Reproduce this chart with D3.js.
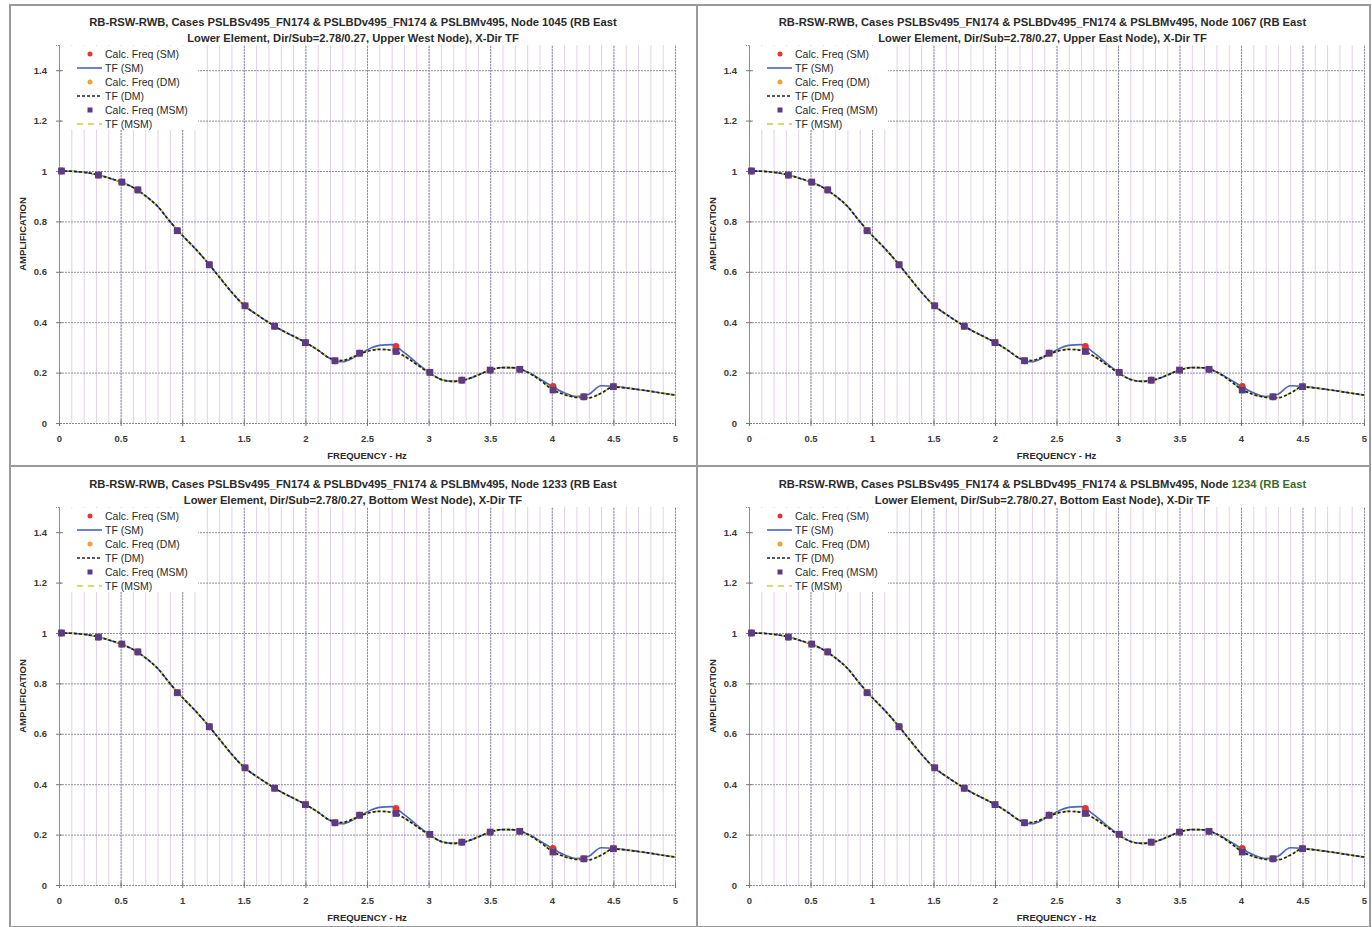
<!DOCTYPE html>
<html>
<head>
<meta charset="utf-8">
<script src="https://cdn.jsdelivr.net/npm/d3@7"></script>
<style>
  body { margin: 0; background: #fff; }
  svg { display: block; font-family: "Liberation Sans", Arial, sans-serif; }
</style>
</head>
<body>
<div id="chart"></div>
<script>
// Frequencies at which the transfer functions were read (Hz)
const freq = [0, 0.1, 0.2, 0.3, 0.4, 0.5, 0.6, 0.7, 0.8, 0.9,
  1.0, 1.1, 1.2, 1.3, 1.4, 1.5, 1.6, 1.7, 1.8, 1.9,
  2.0, 2.1, 2.2, 2.3, 2.4, 2.5, 2.6, 2.7, 2.8, 2.9,
  3.0, 3.1, 3.2, 3.3, 3.4, 3.5, 3.6, 3.7, 3.8, 3.9,
  4.0, 4.1, 4.2, 4.3, 4.4, 4.5, 4.6, 4.7, 4.8, 4.9, 5.0];

const tfSM = [1.000, 0.999, 0.995, 0.987, 0.973, 0.957, 0.935, 0.902, 0.860, 0.800,
  0.745, 0.695, 0.640, 0.580, 0.520, 0.468, 0.432, 0.400, 0.370, 0.345,
  0.320, 0.290, 0.256, 0.243, 0.262, 0.290, 0.308, 0.311, 0.280, 0.240,
  0.202, 0.173, 0.165, 0.172, 0.190, 0.210, 0.220, 0.219, 0.203, 0.176,
  0.146, 0.120, 0.105, 0.114, 0.148, 0.146, 0.140, 0.133, 0.126, 0.118, 0.111];

const tfDM = [1.000, 0.999, 0.995, 0.987, 0.973, 0.957, 0.935, 0.902, 0.860, 0.800,
  0.745, 0.695, 0.640, 0.580, 0.520, 0.468, 0.432, 0.400, 0.370, 0.345,
  0.320, 0.290, 0.257, 0.248, 0.265, 0.284, 0.292, 0.289, 0.266, 0.234,
  0.200, 0.173, 0.165, 0.172, 0.190, 0.210, 0.220, 0.219, 0.202, 0.172,
  0.135, 0.113, 0.102, 0.100, 0.118, 0.143, 0.139, 0.133, 0.126, 0.118, 0.111];

const tfMSM = [1.000, 0.999, 0.995, 0.987, 0.973, 0.957, 0.935, 0.902, 0.860, 0.800,
  0.745, 0.695, 0.640, 0.580, 0.520, 0.468, 0.432, 0.400, 0.370, 0.345,
  0.320, 0.290, 0.257, 0.248, 0.265, 0.284, 0.293, 0.290, 0.266, 0.234,
  0.200, 0.173, 0.165, 0.172, 0.190, 0.210, 0.220, 0.219, 0.202, 0.172,
  0.135, 0.113, 0.102, 0.100, 0.118, 0.143, 0.139, 0.133, 0.126, 0.118, 0.111];

// Calculated frequencies (markers)
const calcFreq = [0.02, 0.32, 0.51, 0.64, 0.96, 1.22, 1.51, 1.75, 2.0, 2.24,
  2.44, 2.735, 3.01, 3.27, 3.5, 3.74, 4.01, 4.26, 4.5];
const calcSM = [1.0, 0.984, 0.956, 0.925, 0.763, 0.628, 0.465, 0.384, 0.319, 0.247,
  0.277, 0.304, 0.201, 0.170, 0.210, 0.213, 0.145, 0.104, 0.144];
const calcDM = [1.0, 0.984, 0.956, 0.925, 0.763, 0.628, 0.465, 0.384, 0.319, 0.247,
  0.277, 0.285, 0.201, 0.170, 0.210, 0.213, 0.131, 0.104, 0.144];
const calcMSM = [1.0, 0.984, 0.956, 0.925, 0.763, 0.628, 0.465, 0.384, 0.319, 0.247,
  0.277, 0.284, 0.201, 0.170, 0.210, 0.213, 0.131, 0.104, 0.144];

const xTicks = [0, 0.5, 1, 1.5, 2, 2.5, 3, 3.5, 4, 4.5, 5];
const yTicks = [0, 0.2, 0.4, 0.6, 0.8, 1, 1.2, 1.4];

const nodes = ['1045', '1067', '1233', '1234'];
const nodeDesc = ['Upper West Node', 'Upper East Node', 'Bottom West Node', 'Bottom East Node'];

const W = 1372, H = 927;

// panel frames and plot areas (pixels)
const panels = [
  { box: [10, 5, 687, 461], left: 59, right: 675, bottom: 423 },
  { box: [697, 5, 673, 461], left: 749, right: 1364, bottom: 423 },
  { box: [10, 466, 687, 461], left: 59, right: 675, bottom: 885 },
  { box: [697, 466, 673, 461], left: 749, right: 1364, bottom: 885 }
];

const svg = d3.select('#chart').append('svg')
  .attr('width', W)
  .attr('height', H)
  .attr('viewBox', `0 0 ${W} ${H}`);

const series = [
  { name: 'Calc. Freq (SM)', type: 'point', shape: 'circle', color: '#e8342c', x: calcFreq, y: calcSM },
  { name: 'TF (SM)', type: 'line', color: '#4a64c4', dash: null, width: 1.6, x: freq, y: tfSM },
  { name: 'Calc. Freq (DM)', type: 'point', shape: 'circle', color: '#f4a030', x: calcFreq, y: calcDM },
  { name: 'TF (DM)', type: 'line', color: '#202020', dash: '3,2', width: 1.7, x: freq, y: tfDM },
  { name: 'Calc. Freq (MSM)', type: 'point', shape: 'square', color: '#5a3c86', x: calcFreq, y: calcMSM },
  { name: 'TF (MSM)', type: 'line', color: '#c4d43a', dash: '6,5', width: 1.6, x: freq, y: tfMSM }
];
// drawing order: lines (SM, MSM, DM) then markers
const drawOrder = [1, 5, 3, 0, 2, 4];

panels.forEach((p, pi) => {
  const g = svg.append('g');

  // frame
  g.append('rect')
    .attr('x', p.box[0]).attr('y', p.box[1])
    .attr('width', p.box[2]).attr('height', p.box[3])
    .attr('fill', '#fff')
    .attr('stroke', '#9a9a9a')
    .attr('stroke-width', 2);

  const x = d3.scaleLinear().domain([0, 5]).range([p.left, p.right]);
  const y = d3.scaleLinear().domain([0, 1.5]).range([p.bottom, p.bottom - 378]);
  const top = y(1.5);
  const innerH = p.bottom - top;
  const innerW = p.right - p.left;

  // minor vertical grid (0.1 Hz)
  g.append('g')
    .attr('transform', `translate(0,${p.bottom})`)
    .call(d3.axisBottom(x).tickValues(d3.range(0, 5.001, 0.1)).tickSize(-innerH).tickFormat(''))
    .call(s => s.select('.domain').remove())
    .call(s => s.selectAll('line').attr('stroke', '#e2d0e6').attr('stroke-width', 1));

  // major vertical grid (0.5 Hz)
  g.append('g')
    .attr('transform', `translate(0,${p.bottom})`)
    .call(d3.axisBottom(x).tickValues(xTicks).tickSize(-innerH).tickFormat(''))
    .call(s => s.select('.domain').remove())
    .call(s => s.selectAll('line').attr('stroke', '#8e8ea6').attr('stroke-width', 1).attr('stroke-dasharray', '2,1'));

  // horizontal grid (0.2)
  g.append('g')
    .attr('transform', `translate(${p.left},0)`)
    .call(d3.axisLeft(y).tickValues(yTicks.slice(1)).tickSize(-innerW).tickFormat(''))
    .call(s => s.select('.domain').remove())
    .call(s => s.selectAll('line').attr('stroke', '#8e8ea6').attr('stroke-width', 1).attr('stroke-dasharray', '2,1'));

  // axes
  const xAxis = g.append('g')
    .attr('transform', `translate(0,${p.bottom})`)
    .call(d3.axisBottom(x).tickValues(xTicks).tickSize(3).tickPadding(9).tickFormat(d3.format('~g')));
  const yAxis = g.append('g')
    .attr('transform', `translate(${p.left},0)`)
    .call(d3.axisLeft(y).tickValues(yTicks).tickSize(3).tickPadding(9).tickFormat(d3.format('~g')));
  [xAxis, yAxis].forEach(a => {
    a.select('.domain').attr('stroke', '#8a8a9a').attr('stroke-dasharray', '2,1');
    a.selectAll('.tick line').attr('stroke', '#777');
    a.selectAll('text').attr('fill', '#3a3a3a').style('font-size', '9.5px').style('font-weight', 'bold');
  });
  xAxis.selectAll('.tick line').attr('y1', -3);
  yAxis.selectAll('.tick line').attr('x1', 3);

  // titles
  const tc = (p.left + p.right) / 2 - 14;
  const title = g.append('text')
    .attr('x', tc).attr('y', top - 19)
    .attr('text-anchor', 'middle')
    .style('font-size', '11.2px').style('font-weight', 'bold').attr('fill', '#2a2a2a');
  if (pi === 3) {
    title.append('tspan').text('RB-RSW-RWB, Cases PSLBSv495_FN174 & PSLBDv495_FN174 & PSLBMv495, Node ');
    title.append('tspan').attr('fill', '#3a6a2a').text(`${nodes[pi]} (RB East`);
  } else {
    title.text(`RB-RSW-RWB, Cases PSLBSv495_FN174 & PSLBDv495_FN174 & PSLBMv495, Node ${nodes[pi]} (RB East`);
  }
  g.append('text')
    .attr('x', tc).attr('y', top - 3)
    .attr('text-anchor', 'middle')
    .style('font-size', '11.2px').style('font-weight', 'bold').attr('fill', '#2a2a2a')
    .text(`Lower Element, Dir/Sub=2.78/0.27, ${nodeDesc[pi]}), X-Dir TF`);

  g.append('text')
    .attr('x', (p.left + p.right) / 2).attr('y', p.bottom + 36)
    .attr('text-anchor', 'middle')
    .style('font-size', '9.5px').style('font-weight', 'bold').attr('fill', '#2a2a2a')
    .text('FREQUENCY - Hz');

  g.append('text')
    .attr('transform', `translate(${p.left - 33},${(top + p.bottom) / 2}) rotate(-90)`)
    .attr('text-anchor', 'middle')
    .style('font-size', '9.5px').style('font-weight', 'bold').attr('fill', '#2a2a2a')
    .text('AMPLIFICATION');

  // series
  const line = d3.line()
    .x(d => x(d[0]))
    .y(d => y(d[1]))
    .curve(d3.curveMonotoneX);

  drawOrder.map(i => series[i]).forEach(s => {
    const pts = s.x.map((v, i) => [v, s.y[i]]);
    if (s.type === 'line') {
      g.append('path')
        .datum(pts)
        .attr('d', line)
        .attr('fill', 'none')
        .attr('stroke', s.color)
        .attr('stroke-width', s.width)
        .attr('stroke-dasharray', s.dash);
    } else if (s.shape === 'circle') {
      g.append('g').selectAll('circle')
        .data(pts).join('circle')
        .attr('cx', d => x(d[0])).attr('cy', d => y(d[1]))
        .attr('r', 3.4)
        .attr('fill', s.color);
    } else {
      g.append('g').selectAll('rect')
        .data(pts).join('rect')
        .attr('x', d => x(d[0]) - 3.4).attr('y', d => y(d[1]) - 3.4)
        .attr('width', 6.8).attr('height', 6.8)
        .attr('fill', s.color);
    }
  });

  // legend
  const lg = g.append('g').attr('transform', `translate(${p.left + 31},${top + 9})`);
  lg.append('rect')
    .attr('x', -27).attr('y', -8)
    .attr('width', 135).attr('height', 84)
    .attr('fill', '#fff');
  series.forEach((s, i) => {
    const row = lg.append('g').attr('transform', `translate(0,${i * 14})`);
    if (s.type === 'line') {
      row.append('line')
        .attr('x1', -13).attr('x2', 12)
        .attr('stroke', s.color).attr('stroke-width', s.width)
        .attr('stroke-dasharray', s.dash);
    } else if (s.shape === 'circle') {
      row.append('circle').attr('r', 2.5).attr('fill', s.color);
    } else {
      row.append('rect').attr('x', -2.5).attr('y', -2.5).attr('width', 5).attr('height', 5).attr('fill', s.color);
    }
    row.append('text')
      .attr('x', 15).attr('dy', '0.35em')
      .style('font-size', '10.5px').attr('fill', '#2a2a2a')
      .text(s.name);
  });
});
</script>
</body>
</html>
